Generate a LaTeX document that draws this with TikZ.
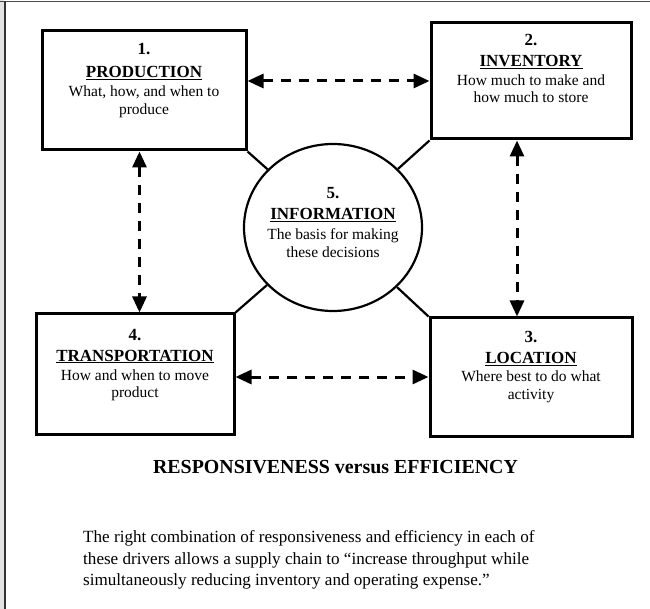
\documentclass[tikz,border=0pt]{standalone}
\usepackage{fontspec}
\setmainfont{Liberation Serif}
\usetikzlibrary{arrows.meta,calc,shapes.geometric}
\begin{document}
\begin{tikzpicture}[x=1pt,y=-1pt,
  boxst/.style={draw,line width=3pt,inner sep=0pt,rectangle},
  circst/.style={draw,ellipse,line width=2.2pt,inner sep=0pt},
  numst/.style={anchor=base,inner sep=0pt,font=\fontsize{17}{17}\selectfont\bfseries},
  headst/.style={anchor=base,inner sep=0pt,font=\fontsize{17}{17}\selectfont\bfseries},
  bodyst/.style={anchor=base,inner sep=0pt,font=\fontsize{15.5}{17}\selectfont},
  titlest/.style={anchor=base,inner sep=0pt,font=\fontsize{19.9}{20}\selectfont\bfseries},
  parast/.style={anchor=base west,inner sep=0pt,font=\fontsize{17.1}{20}\selectfont},
  conn/.style={line width=2.2pt},
  dar/.style={line width=3pt,dash pattern=on 10pt off 8pt,
    {Triangle[length=16pt,width=14pt]}-{Triangle[length=16pt,width=14pt]}}]
\useasboundingbox (0,0) rectangle (650,609);
% frame
\fill[gray!22] (0,0) rectangle (4,609);
\draw[line width=1.5pt,black!70] (0,1.5) -- (650,1.5);
\draw[line width=1.5pt,black!80] (5,1.5) -- (5,609);
% boxes
\node[boxst,minimum width=204pt,minimum height=119pt] (b1) at (144,90.5) {};
\node[boxst,minimum width=200pt,minimum height=116pt] (b2) at (531,81) {};
\node[boxst,minimum width=202pt,minimum height=118pt] (b3) at (531,377) {};
\node[boxst,minimum width=198pt,minimum height=120pt] (b4) at (135,374) {};
\node[circst,minimum width=178pt,minimum height=167pt] (info) at (333,227.5) {};
% texts box 1
\node[numst] (t1n) at (144,55) {1.};
\node[headst] (t1h) at (144,77.7) {\underline{PRODUCTION}};
\node[bodyst] (t1a) at (144,96.7) {What, how, and when to};
\node[bodyst] (t1b) at (144,114.3) {produce};
% box 2
\node[numst] (t2n) at (531,46) {2.};
\node[headst] (t2h) at (531,66.7) {\underline{INVENTORY}};
\node[bodyst] (t2a) at (531,86) {How much to make and};
\node[bodyst] (t2b) at (531,103) {how much to store};
% box 3
\node[numst] (t3n) at (531,342.7) {3.};
\node[headst] (t3h) at (531,363.3) {\underline{LOCATION}};
\node[bodyst] (t3a) at (531,381.7) {Where best to do what};
\node[bodyst] (t3b) at (531,399.5) {activity};
% box 4
\node[numst] (t4n) at (135,340) {4.};
\node[headst] (t4h) at (135,361) {\underline{TRANSPORTATION}};
\node[bodyst] (t4a) at (135,380) {How and when to move};
\node[bodyst] (t4b) at (135,397.3) {product};
% circle
\node[numst] (t5n) at (333,199) {5.};
\node[headst] (t5h) at (333,220) {\underline{INFORMATION}};
\node[bodyst] (t5a) at (333,240) {The basis for making};
\node[bodyst] (t5b) at (333,257.7) {these decisions};
% solid connectors
\draw[conn] (b1.south east) -- (info);
\draw[conn] (b2.south west) -- (info);
\draw[conn] (b3.north west) -- (info);
\draw[conn] (b4.north east) -- (info);
% dashed double arrows
\coordinate (lv) at ($(b1.south)!0.5!(b4.north)$);
\coordinate (rv) at (517,228);
\draw[dar] (b1.east |- b2.west) -- (b2.west);
\draw[dar] (b4.east |- b3.west) -- (b3.west);
\draw[dar] (b1.south -| lv) -- (b4.north -| lv);
\draw[dar] (b2.south -| rv) -- (b3.north -| rv);
% bottom texts
\node[titlest] (title) at (335.5,473) {RESPONSIVENESS versus EFFICIENCY};
\node[parast] (p1) at (83,542) {The right combination of responsiveness and efficiency in each of};
\node[parast] (p2) at (83,564) {these drivers allows a supply chain to “increase throughput while};
\node[parast] (p3) at (83,585.7) {simultaneously reducing inventory and operating expense.”};
\end{tikzpicture}
\end{document}
